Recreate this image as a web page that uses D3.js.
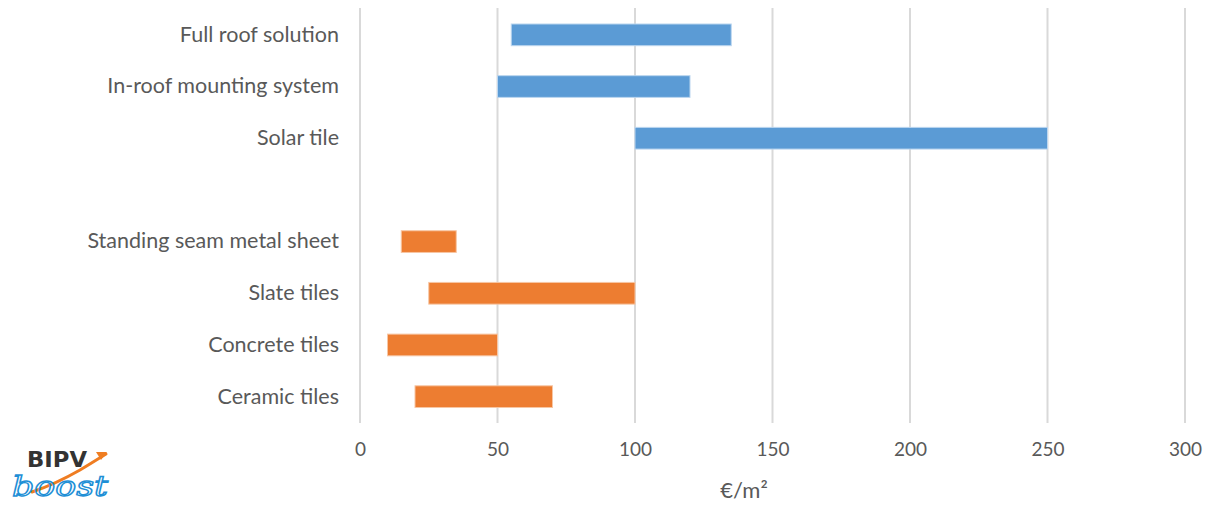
<!DOCTYPE html>
<html>
<head>
<meta charset="utf-8">
<script src="https://cdn.jsdelivr.net/npm/d3@7"></script>
<style>
  html, body { margin: 0; padding: 0; background: #fff; }
  svg { display: block; }
  text { font-family: Lato, "Open Sans", sans-serif; }
</style>
</head>
<body>
<svg id="chart" width="1215" height="505"></svg>
<script>
// Cost ranges per roof product (€/m²)
const categories = [
  "Full roof solution",
  "In-roof mounting system",
  "Solar tile",
  "",
  "Standing seam metal sheet",
  "Slate tiles",
  "Concrete tiles",
  "Ceramic tiles"
];
const lowValues  = [55, 50, 100, null, 15, 25, 10, 20];
const highValues = [135, 120, 250, null, 35, 100, 50, 70];
const groups     = ["bipv", "bipv", "bipv", null, "conv", "conv", "conv", "conv"];
const xTicks     = [0, 50, 100, 150, 200, 250, 300];
const axisTitle  = "€/m²";

const colors = { bipv: "#5b9bd5", conv: "#ed7d31" };
const strokes = { bipv: "#bcd6ef", conv: "#f7c6a4" };

const svg = d3.select("#chart");
const x = d3.scaleLinear().domain([0, 300]).range([360, 1185]);
const y = d3.scaleBand().domain(d3.range(categories.length)).range([9, 422.5]).paddingInner(0.58).paddingOuter(0.29);

// vertical gridlines
svg.append("g")
  .selectAll("line")
  .data(xTicks)
  .join("line")
  .attr("x1", d => x(d)).attr("x2", d => x(d))
  .attr("y1", 8).attr("y2", 423)
  .attr("stroke", "#d9d9d9")
  .attr("stroke-width", 2);

// x axis labels
const xAxis = d3.axisBottom(x).tickValues(xTicks).tickSize(0).tickPadding(0);
const gx = svg.append("g").attr("transform", "translate(0,442)").call(xAxis);
gx.select(".domain").remove();
gx.selectAll("text")
  .attr("dy", "0.71em")
  .attr("fill", "#595959")
  .style("font-size", "19px")
  .style("font-family", "Lato, 'Open Sans', sans-serif");

// category labels
const yAxis = d3.axisLeft(y).tickFormat(i => categories[i]).tickSize(0).tickPadding(0);
const gy = svg.append("g").attr("transform", "translate(339,0)").call(yAxis);
gy.select(".domain").remove();
gy.selectAll("text")
  .attr("fill", "#595959")
  .style("font-size", "21.5px")
  .style("font-family", "Lato, 'Open Sans', sans-serif");

// range bars
const rows = d3.range(categories.length).filter(i => lowValues[i] != null);
svg.append("g")
  .selectAll("rect")
  .data(rows)
  .join("rect")
  .attr("x", i => x(lowValues[i]))
  .attr("width", i => x(highValues[i]) - x(lowValues[i]))
  .attr("y", i => y(i))
  .attr("height", y.bandwidth())
  .attr("fill", i => colors[groups[i]])
  .attr("stroke", i => strokes[groups[i]])
  .attr("stroke-width", 1);

// axis title
svg.append("text")
  .attr("x", 744).attr("y", 498)
  .attr("text-anchor", "middle")
  .attr("fill", "#595959")
  .style("font-size", "22px")
  .text(axisTitle);

// BIPV boost logo
const logo = svg.append("g").attr("class", "logo");
logo.append("path")
  .attr("d", "M32,492 C50,486 66,478 80,470 C90,464 98,459 106,454")
  .attr("fill", "none").attr("stroke", "#ef7d22").attr("stroke-width", 3).attr("stroke-linecap", "round");
logo.append("path")
  .attr("d", "M96,452 L107,452 L101,460 Z").attr("fill", "#ef7d22");
logo.append("text")
  .attr("x", 27).attr("y", 467)
  .attr("fill", "#333")
  .attr("textLength", 60)
  .attr("lengthAdjust", "spacingAndGlyphs")
  .style("font-family", "'DejaVu Sans', sans-serif")
  .style("font-weight", "bold")
  .style("font-size", "22px")
  .text("BIPV");
logo.append("text")
  .attr("x", 12).attr("y", 496)
  .attr("fill", "none")
  .attr("stroke", "#1e8fd6")
  .attr("stroke-width", 1.3)
  .attr("textLength", 96)
  .attr("lengthAdjust", "spacingAndGlyphs")
  .style("font-family", "'DejaVu Serif', serif")
  .style("font-style", "italic")
  .style("font-size", "27px")
  .text("boost");
</script>
</body>
</html>
